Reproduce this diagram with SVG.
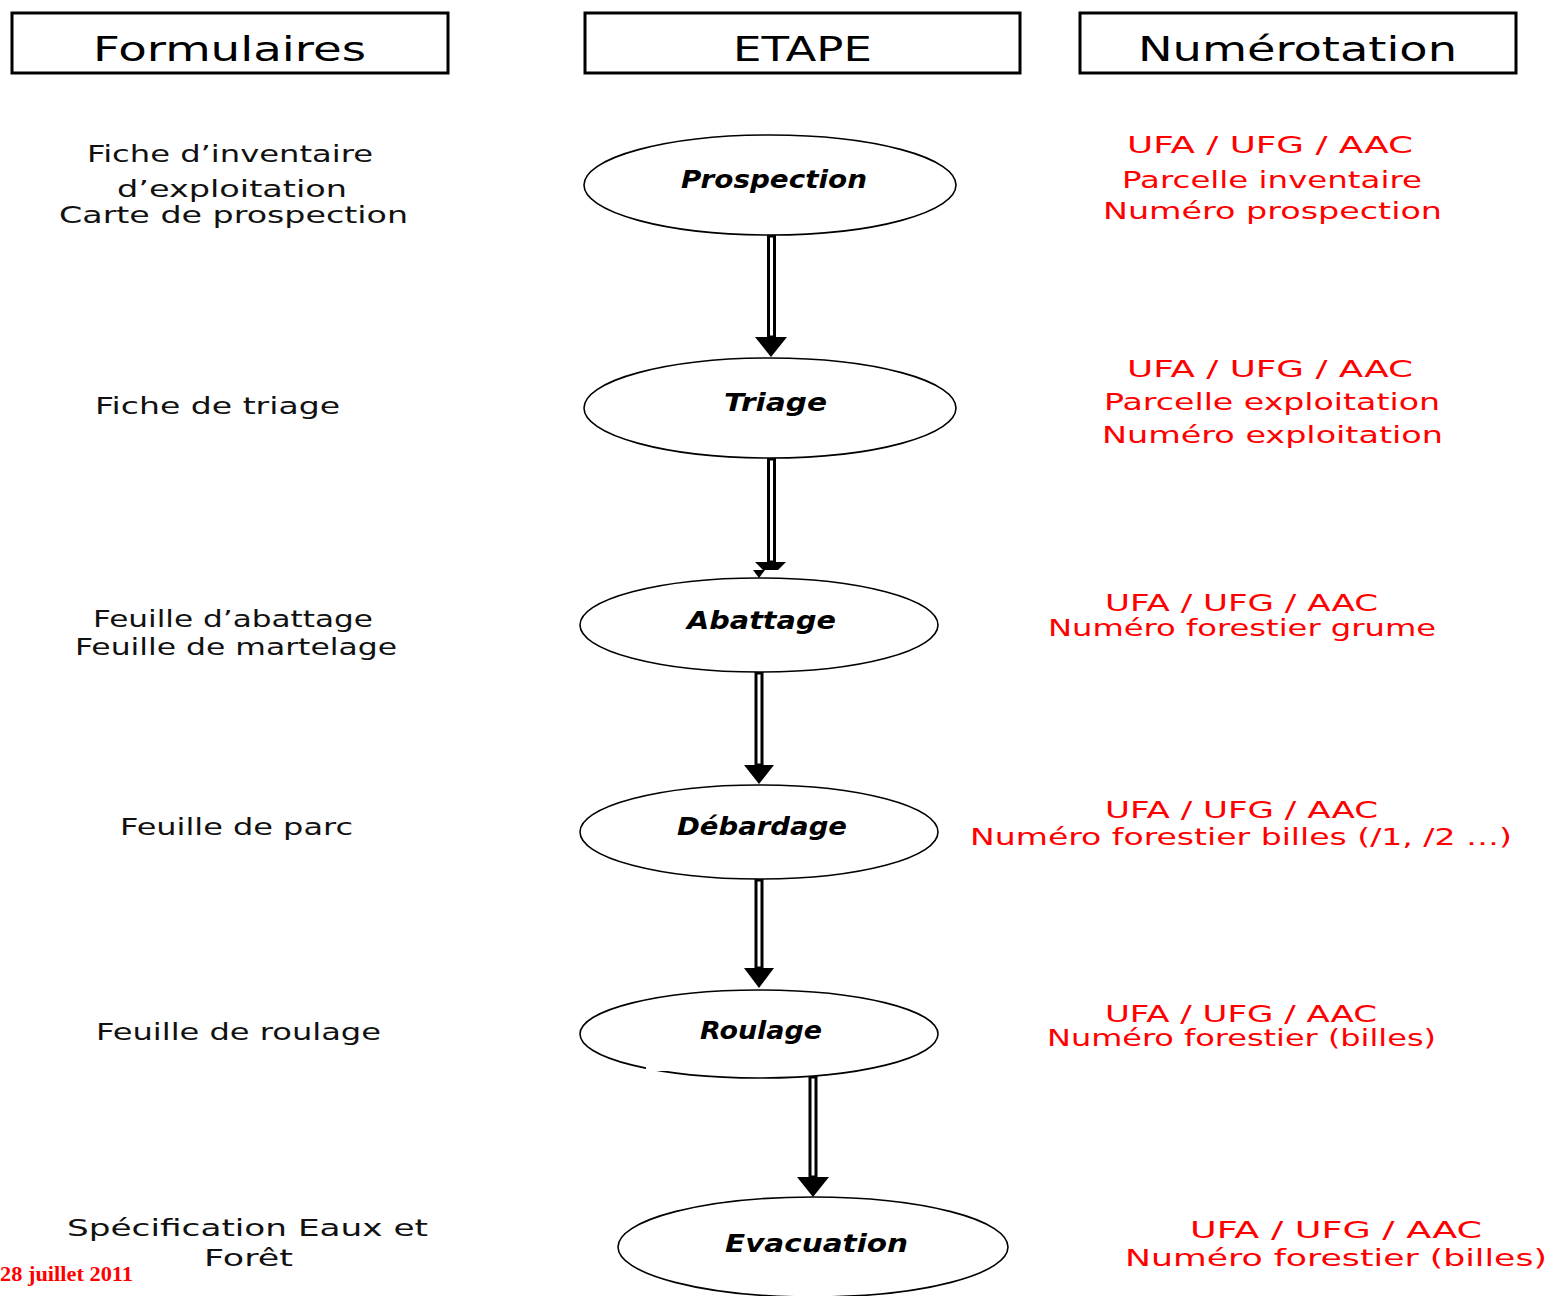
<svg xmlns="http://www.w3.org/2000/svg" width="1555" height="1296" viewBox="0 0 1555 1296">
<style>
.hdr{fill:#fff;stroke:#000;stroke-width:3}
.ht{font-family:"DejaVu Sans",sans-serif;font-size:33px;fill:#000}
.lt{font-family:"DejaVu Sans",sans-serif;font-size:23.5px;fill:#111}
.rt{font-family:"DejaVu Sans",sans-serif;font-size:22.5px;fill:#ff0000}
.el{fill:#fff;stroke:#000;stroke-width:1.6}
.st{font-family:"DejaVu Sans",sans-serif;font-size:24px;font-style:italic;font-weight:bold;fill:#000}
.sh{fill:#fff;stroke:#000;stroke-width:3}
.hd{fill:#000}
.date{font-family:"Liberation Serif",serif;font-size:21px;font-weight:bold;fill:#ff0000}
</style>
<rect width="1555" height="1296" fill="#fff"/>

<g id="header-formulaires">
<rect class="hdr" x="12" y="13" width="436" height="60"/>
<text class="ht" x="93" y="61" textLength="273" lengthAdjust="spacingAndGlyphs">Formulaires</text>
</g>
<g id="header-etape">
<rect class="hdr" x="585" y="13" width="435" height="60"/>
<text class="ht" x="733" y="61" textLength="139" lengthAdjust="spacingAndGlyphs">ETAPE</text>
</g>
<g id="header-numerotation">
<rect class="hdr" x="1080" y="13" width="436" height="60"/>
<text class="ht" x="1138" y="61" textLength="319" lengthAdjust="spacingAndGlyphs">Numérotation</text>
</g>

<g id="connectors">
<rect class="sh" x="768.5" y="236" width="6" height="101"/>
<polygon class="hd" points="755,337 787,337 771,357"/>
<rect class="sh" x="768.5" y="459" width="6" height="103"/>
<polygon class="hd" points="755,562 786,562 778,570 763,570"/>
<polygon class="hd" points="753,570 765,570 759,578"/>
<rect class="sh" x="756" y="673" width="6" height="92"/>
<polygon class="hd" points="744,765 774,765 759,784"/>
<rect class="sh" x="756" y="880" width="6" height="88"/>
<polygon class="hd" points="744,968 774,968 759,988"/>
<rect class="sh" x="810" y="1077" width="6" height="100"/>
<polygon class="hd" points="797,1177 829,1177 813,1197"/>
</g>

<g id="node-prospection">
<ellipse class="el" cx="770" cy="185" rx="186" ry="50"/>
<text class="st" x="681" y="188" textLength="186" lengthAdjust="spacingAndGlyphs">Prospection</text>
</g>
<g id="node-triage">
<ellipse class="el" cx="770" cy="408" rx="186" ry="50"/>
<text class="st" x="724" y="411" textLength="103" lengthAdjust="spacingAndGlyphs">Triage</text>
</g>
<g id="node-abattage">
<ellipse class="el" cx="759" cy="625" rx="179" ry="47"/>
<text class="st" x="687" y="629" textLength="149" lengthAdjust="spacingAndGlyphs">Abattage</text>
</g>
<g id="node-debardage">
<ellipse class="el" cx="759" cy="832" rx="179" ry="47"/>
<text class="st" x="677" y="835" textLength="170" lengthAdjust="spacingAndGlyphs">Débardage</text>
</g>
<g id="node-roulage">
<ellipse class="el" cx="759" cy="1034" rx="179" ry="44"/>
<rect x="646" y="1062" width="70" height="9" fill="#fff"/>
<text class="st" x="700" y="1039" textLength="122" lengthAdjust="spacingAndGlyphs">Roulage</text>
</g>
<g id="node-evacuation">
<ellipse class="el" cx="813" cy="1247" rx="195" ry="50"/>
<text class="st" x="725" y="1252" textLength="183" lengthAdjust="spacingAndGlyphs">Evacuation</text>
</g>

<g id="forms">
<text class="lt" x="87" y="162" textLength="286" lengthAdjust="spacingAndGlyphs">Fiche d’inventaire</text>
<text class="lt" x="117" y="197" textLength="230" lengthAdjust="spacingAndGlyphs">d’exploitation</text>
<text class="lt" x="59" y="223" textLength="349" lengthAdjust="spacingAndGlyphs">Carte de prospection</text>
<text class="lt" x="95" y="414" textLength="245" lengthAdjust="spacingAndGlyphs">Fiche de triage</text>
<text class="lt" x="93" y="627" textLength="280" lengthAdjust="spacingAndGlyphs">Feuille d’abattage</text>
<text class="lt" x="75" y="655" textLength="322" lengthAdjust="spacingAndGlyphs">Feuille de martelage</text>
<text class="lt" x="120" y="835" textLength="233" lengthAdjust="spacingAndGlyphs">Feuille de parc</text>
<text class="lt" x="96" y="1040" textLength="285" lengthAdjust="spacingAndGlyphs">Feuille de roulage</text>
<text class="lt" x="67" y="1236" textLength="361" lengthAdjust="spacingAndGlyphs">Spécification Eaux et</text>
<text class="lt" x="204" y="1266" textLength="89" lengthAdjust="spacingAndGlyphs">Forêt</text>
</g>

<g id="numbering">
<text class="rt" x="1127" y="153" textLength="286" lengthAdjust="spacingAndGlyphs">UFA / UFG / AAC</text>
<text class="rt" x="1122" y="188" textLength="300" lengthAdjust="spacingAndGlyphs">Parcelle inventaire</text>
<text class="rt" x="1103" y="219" textLength="339" lengthAdjust="spacingAndGlyphs">Numéro prospection</text>
<text class="rt" x="1127" y="377" textLength="286" lengthAdjust="spacingAndGlyphs">UFA / UFG / AAC</text>
<text class="rt" x="1104" y="410" textLength="336" lengthAdjust="spacingAndGlyphs">Parcelle exploitation</text>
<text class="rt" x="1102" y="443" textLength="341" lengthAdjust="spacingAndGlyphs">Numéro exploitation</text>
<text class="rt" x="1105" y="611" textLength="273" lengthAdjust="spacingAndGlyphs">UFA / UFG / AAC</text>
<text class="rt" x="1048" y="636" textLength="388" lengthAdjust="spacingAndGlyphs">Numéro forestier grume</text>
<text class="rt" x="1105" y="818" textLength="273" lengthAdjust="spacingAndGlyphs">UFA / UFG / AAC</text>
<text class="rt" x="970" y="845" textLength="542" lengthAdjust="spacingAndGlyphs">Numéro forestier billes (/1, /2 …)</text>
<text class="rt" x="1105" y="1022" textLength="272" lengthAdjust="spacingAndGlyphs">UFA / UFG / AAC</text>
<text class="rt" x="1047" y="1046" textLength="389" lengthAdjust="spacingAndGlyphs">Numéro forestier (billes)</text>
<text class="rt" x="1190" y="1238" textLength="292" lengthAdjust="spacingAndGlyphs">UFA / UFG / AAC</text>
<text class="rt" x="1125" y="1266" textLength="422" lengthAdjust="spacingAndGlyphs">Numéro forestier (billes)</text>
</g>

<text class="date" x="0" y="1281" textLength="133" lengthAdjust="spacingAndGlyphs">28 juillet 2011</text>
</svg>
